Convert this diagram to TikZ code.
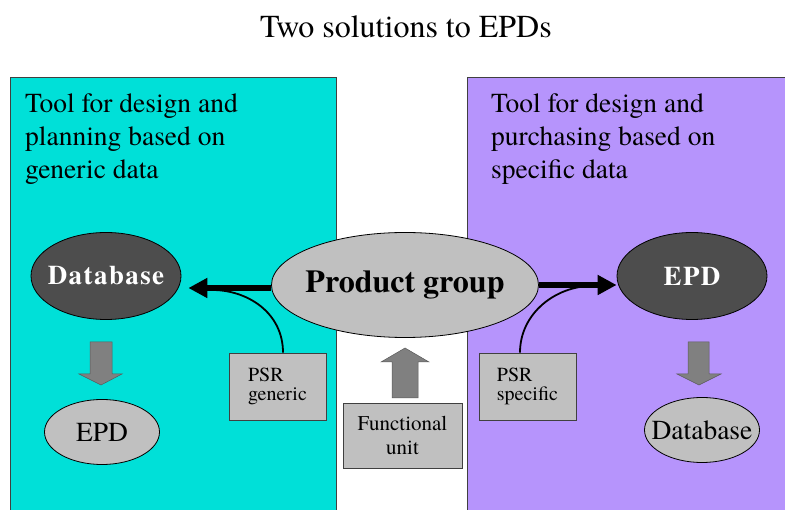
\documentclass[tikz,border=0pt]{standalone}
\usepackage{fontspec}
\setmainfont{texgyretermes}[Extension=.otf,UprightFont=*-regular,BoldFont=*-bold,
  ItalicFont=*-italic,BoldItalicFont=*-bolditalic]
\newfontfamily\spacedserif{texgyretermes}[Extension=.otf,UprightFont=*-regular,
  BoldFont=*-bold,LetterSpace=5]
\usetikzlibrary{shapes.geometric,arrows.meta}
\definecolor{panelcyan}{RGB}{0,224,216}
\definecolor{panelviolet}{RGB}{182,148,252}
\definecolor{lightgrey}{RGB}{192,192,192}
\definecolor{darkfill}{RGB}{77,77,77}
\definecolor{arrowgrey}{RGB}{128,128,128}
\definecolor{edgegrey}{RGB}{64,64,64}
\begin{document}
\begin{tikzpicture}[x=1pt,y=-1pt,
  panel/.style={draw=edgegrey,line width=0.8pt},
  heading/.style={anchor=north west,inner sep=0pt,align=left,
    font=\fontsize{27.5}{33}\selectfont},
  darkoval/.style={ellipse,draw=black,line width=0.8pt,fill=darkfill,text=white,
    inner xsep=-15pt,inner ysep=0pt,minimum width=150pt,minimum height=87pt,
    font=\spacedserif\bfseries\fontsize{27}{30}\selectfont},
  lightoval/.style={ellipse,draw=black,line width=0.8pt,fill=lightgrey,
    inner xsep=-25pt,inner ysep=0pt,minimum width=115pt,minimum height=65pt,
    font=\fontsize{27.5}{30}\selectfont},
  mainoval/.style={ellipse,draw=black,line width=0.8pt,fill=lightgrey,
    inner xsep=-20pt,inner ysep=0pt,minimum width=267pt,minimum height=105pt,
    font=\bfseries\fontsize{32}{36}\selectfont},
  psrbox/.style={rectangle,draw=edgegrey,line width=0.8pt,fill=lightgrey,
    inner sep=0pt,minimum width=97pt,minimum height=67pt,align=left,
    font=\fontsize{20}{19}\selectfont},
  unitbox/.style={rectangle,draw=edgegrey,line width=0.8pt,fill=lightgrey,
    inner sep=0pt,minimum width=119pt,minimum height=65pt,align=center,
    font=\fontsize{21}{24}\selectfont},
  blockarrow/.style={fill=arrowgrey,draw=arrowgrey!70!black,line width=0.5pt},
  bigarrow/.style={line width=6pt,-{Triangle[length=19pt,width=19pt]}},
  link/.style={line width=1.8pt}]

\useasboundingbox (0,0) rectangle (785,510);
\fill[white] (0,0) rectangle (785,510);

% the two coloured panels
\fill[panelcyan] (10,77) rectangle (336,511);
\draw[panel] (10,511) -- (10,77) -- (336,77) -- (336,511);
\fill[panelviolet] (467,77) rectangle (786,511);
\draw[panel] (467,511) -- (467,77) -- (786,77);

% title and panel headings
\node[font=\fontsize{32}{36}\selectfont] (title) at (406,27) {Two solutions to EPDs};
\node[heading] (lefthead) at (25,94) {Tool for design and\\planning based on\\generic data};
\node[heading] (righthead) at (491,94) {Tool for design and\\purchasing based on\\specific data};

% ovals
\node[darkoval] (db) at (106,276) {Database};
\node[mainoval] (pg) at (405,285) {Product group};
\node[darkoval] (ep) at (692,276) {EPD};
\node[lightoval] (epl) at (102,432) {EPD};
\node[lightoval] (dbr) at (702,430) {Database};

% boxes
\node[psrbox] (psrg) at (277.5,386.5) {PSR\\generic};
\node[psrbox] (psrs) at (527.5,386.5) {PSR\\specific};
\node[unitbox] (fu) at (402.5,435.5) {Functional\\unit};

% block arrows
\filldraw[blockarrow] (90,342) -- (112,342) -- (112,374) -- (122,374) -- (101,385)
  -- (79,374) -- (90,374) -- cycle;
\filldraw[blockarrow] (688,342) -- (709,342) -- (709,374) -- (721,374) -- (699,385)
  -- (677,374) -- (688,374) -- cycle;
\filldraw[blockarrow] (392,398) -- (418,398) -- (418,362) -- (429,362) -- (405,348)
  -- (381,362) -- (392,362) -- cycle;

% PSR links into the main arrows
\draw[link] ([xshift=5.5pt]psrg.north) .. controls +(0,-40) and +(35,0) ..
  ([xshift=31pt,yshift=-14pt]db.east);
\draw[link] ([xshift=-7.5pt]psrs.north) .. controls +(0,-40) and +(-35,0) ..
  ([xshift=-25pt,yshift=-10pt]ep.west);

% main arrows
\draw[bigarrow] ([yshift=-3pt]pg.west) -- ([xshift=7pt,yshift=-12pt]db.east);
\draw[bigarrow] (pg.east) -- ([yshift=-9pt]ep.west);
\end{tikzpicture}
\end{document}
